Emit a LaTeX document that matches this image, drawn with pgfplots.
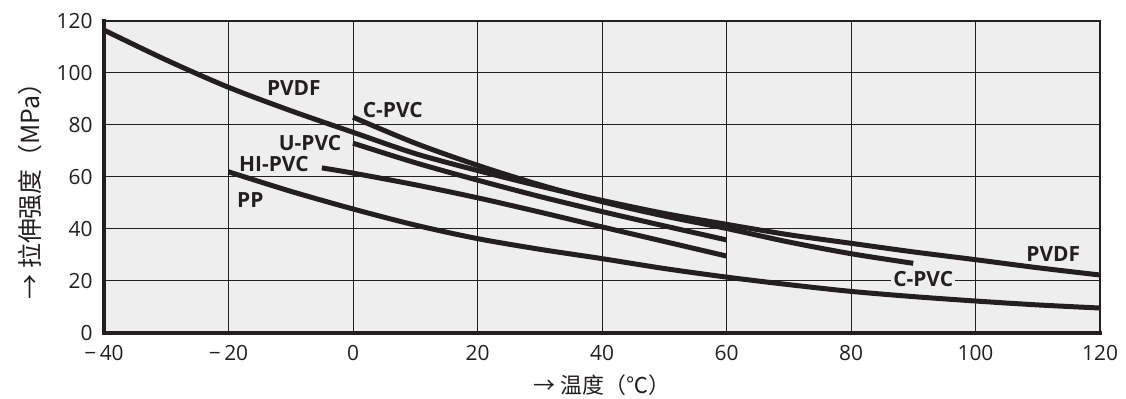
\documentclass[border=0pt]{standalone}
\usepackage{fontspec}
\setmainfont{Open Sans}
\newfontfamily\cjk{Noto Sans CJK SC}
\usepackage{pgfplots}
\pgfplotsset{compat=1.18}
\definecolor{ink}{HTML}{231F20}
\definecolor{bg}{HTML}{EEEEEE}
\begin{document}
\begin{tikzpicture}
\begin{axis}[
  name=ax,
  scale only axis, width=996bp, height=312bp,
  xmin=-40, xmax=120, ymin=0, ymax=120,
  xtick={-40,-20,...,120}, ytick={0,20,...,120},
  xticklabels={−\,40,−\,20,0,20,40,60,80,100,120},
  grid=major, major grid style={ink, line width=1bp},
  major tick length=0pt,
  axis line style={ink, line width=1.5bp},
  axis background/.style={fill=bg},
  tick label style={font=\fontsize{21}{21}\selectfont, text=ink},
  /pgf/number format/assume math mode=true,
  xticklabel style={yshift=-9bp},
  yticklabel style={xshift=-8bp},
  xlabel={\cjk\fontsize{22}{22}\selectfont → 温度（℃）},
  ylabel={\cjk\fontsize{25}{25}\selectfont → 拉伸强度（MPa）},
  xlabel style={at={(axis description cs:0.5,0)}, anchor=center, yshift=-52bp, text=ink},
  ylabel style={at={(axis description cs:0,0.5)}, anchor=center, yshift=74bp, xshift=-8bp, text=ink},
  curve/.style={ink, line width=5bp, smooth, line cap=butt, no markers},
  clip=false,
]
% PVDF
\addplot[curve] coordinates {(-40,116.5) (-30,105) (-20,94.5) (-10,85.5) (0,77.2) (10,69) (20,62.5) (30,56.5) (40,51) (50,46) (60,41.8) (70,37.8) (80,34.5) (90,31.2) (100,28.2) (110,25.1) (120,22.3)};
% C-PVC
\addplot[curve] coordinates {(0,83) (10,73) (20,64.5) (30,57) (40,50.5) (50,45) (60,40.2) (70,35) (80,30.5) (90,26.8)};
% U-PVC
\addplot[curve] coordinates {(0,73) (10,65.5) (20,58.8) (30,52.5) (40,46.7) (50,41.2) (60,35.8)};
% HI-PVC
\addplot[curve] coordinates {(-5,63.5) (0,61.5) (10,57) (20,52) (30,46.5) (40,40.8) (50,35.2) (60,29.6)};
% PP
\addplot[curve] coordinates {(-20,62) (-10,54.5) (0,47.7) (10,41.5) (20,36.3) (30,32.2) (40,28.6) (50,24.8) (60,21.5) (70,18.6) (80,16) (90,14) (100,12.3) (110,10.8) (120,9.6)};
\begin{scope}[every node/.style={font=\bfseries\fontsize{21}{21}\selectfont, text=ink}]
\node at (axis cs:-9.5,94.2) {PVDF};
\node at (axis cs:6.4,85.8) {C-PVC};
\node at (axis cs:-6.9,73) {U-PVC};
\node at (axis cs:-12.7,65) {HI-PVC};
\node at (axis cs:-16.5,51.2) {PP};
\node at (axis cs:112.5,30.3) {PVDF};
\node[fill=bg, inner sep=2bp] at (axis cs:91.6,20.8) {C-PVC};
\end{scope}
\draw[ink, line width=4bp, line cap=rect] (rel axis cs:0,1) -- (rel axis cs:0,0) -- (rel axis cs:1,0);
\end{axis}
\path[use as bounding box] ([shift={(-104bp,-63bp)}]ax.south west) rectangle ([shift={(26bp,21bp)}]ax.north east);
\end{tikzpicture}
\end{document}
